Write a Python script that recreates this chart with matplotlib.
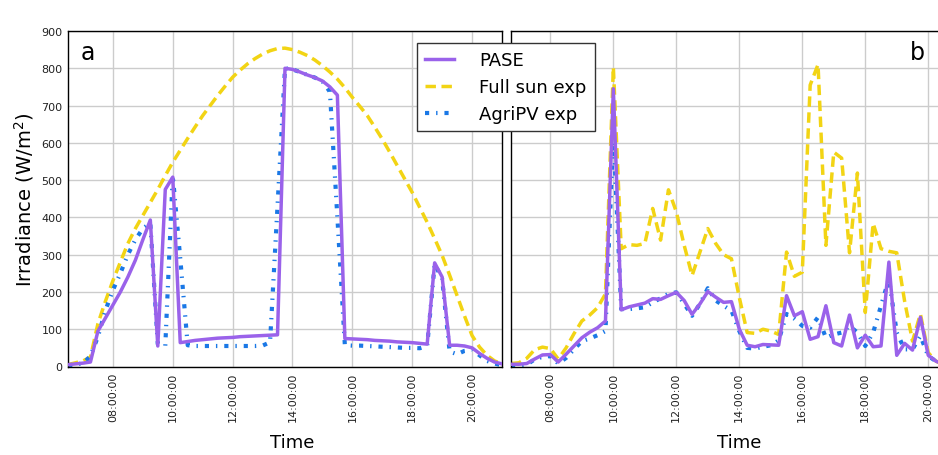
import numpy as np
import matplotlib
matplotlib.use("Agg")
import matplotlib.pyplot as plt
from matplotlib.ticker import FuncFormatter, MultipleLocator

plt.rcParams['lines.scale_dashes'] = False

# time of day in hours, 15 min steps
t_a = np.arange(6.5, 21.0 + 0.01, 0.25)
t_b = np.arange(6.75, 20.5 + 0.01, 0.25)

# panel a (clear day)
pase_a = [5, 7, 9, 12, 95, 130, 165, 200, 240, 285, 340, 393, 55, 475, 508,
          64, 67, 70, 72, 74, 76, 77, 78, 80, 81, 82, 83, 84, 85,
          800, 797, 790, 782, 775, 766, 750, 728,
          75, 74, 73, 72, 70, 69, 68, 66, 65, 64, 62, 60,
          278, 240, 57, 57, 55, 50, 35, 22, 12, 7]
fullsun_a = [5, 10, 15, 25, 115, 175, 230, 280, 330, 370, 405, 440, 475, 512, 548,
             580, 612, 643, 673, 700, 727, 752, 776, 795, 812, 826, 838, 847, 853,
             854, 850, 843, 834, 822, 807, 790, 771,
             748, 722, 698, 673, 642, 610, 575, 539, 503, 467, 427, 387,
             343, 298, 245, 190, 135, 83, 52, 30, 15, 7]
agripv_a = [3, 6, 8, 28, 80, 150, 205, 250, 300, 340, 370, 385, 60, 55, 513,
            290, 57, 55, 55, 55, 55, 55, 55, 55, 55, 55, 56, 65, 430,
            800, 797, 790, 782, 775, 765, 737, 400,
            57, 56, 56, 55, 54, 53, 52, 51, 50, 50, 49, 55,
            275, 235, 40, 33, 42, 45, 30, 15, 8, 3]

# panel b (cloudy day)
pase_b = [6, 6, 8, 20, 31, 32, 12, 33, 55, 77, 92, 104, 122, 745,
          152, 160, 165, 170, 182, 180, 190, 199, 177, 140, 168, 201, 186, 172,
          174, 100, 57, 53, 59, 58, 57, 190, 136, 147, 73, 80, 163, 64,
          55, 138, 50, 84, 53, 55, 280, 30, 62, 44, 132, 30, 14, 5]
fullsun_b = [8, 10, 22, 45, 52, 48, 20, 50, 88, 122, 138, 158, 195, 803,
             316, 327, 325, 330, 424, 339, 474, 415, 325, 244, 307, 370, 330, 300,
             289, 185, 91, 89, 100, 95, 86, 307, 242, 253, 755, 810, 325, 575,
             559, 305, 519, 145, 384, 316, 309, 305, 175, 68, 141, 37, 14, 5]
agripv_b = [3, 3, 5, 19, 26, 28, 8, 23, 46, 68, 75, 84, 95, 630,
            154, 154, 156, 159, 172, 183, 195, 199, 168, 136, 168, 210, 177, 163,
            150, 95, 50, 48, 53, 57, 70, 141, 128, 109, 104, 132, 77, 86,
            91, 109, 91, 55, 91, 163, 235, 91, 46, 46, 82, 28, 14, 5]

c_pase = '#9a62ea'
c_sun = '#f2d414'
c_agri = '#1a78e6'


def hhmmss(x, pos):
    h = int(x)
    m = int(round((x - h) * 60))
    return "%02d:%02d:00" % (h, m)


fig = plt.figure(figsize=(9.38, 4.56), dpi=100)
W, H = 938.0, 456.0
ax_a = fig.add_axes([68 / W, (H - 367.5) / H, 434 / W, 335.5 / H])
ax_b = fig.add_axes([511 / W, (H - 367.5) / H, 433 / W, 335.5 / H])

for ax, t, p, s, g, xl in [(ax_a, t_a, pase_a, fullsun_a, agripv_a, (6.5, 21.0)),
                           (ax_b, t_b, pase_b, fullsun_b, agripv_b, (6.75, 20.5))]:
    ax.plot(t, p, color=c_pase, lw=2.5, label='PASE', zorder=3)
    ax.plot(t, s, color=c_sun, lw=2.5, dashes=(7.5, 4), label='Full sun exp', zorder=2)
    ax.plot(t, g, color=c_agri, lw=3, dashes=(3, 5, 1, 5), label='AgriPV exp', zorder=2)
    ax.set_xlim(*xl)
    ax.set_ylim(0, 900)
    ax.xaxis.set_major_locator(MultipleLocator(2))
    ax.xaxis.set_major_formatter(FuncFormatter(hhmmss))
    ax.yaxis.set_major_locator(MultipleLocator(100))
    ax.grid(True, color='#cccccc', lw=1)
    ax.set_axisbelow(True)
    ax.tick_params(direction='in', length=0, labelsize=8, pad=4, labelcolor='#222222')
    ax.tick_params(axis='x', labelrotation=90)
    ax.set_xlabel('Time', fontsize=13)
    for sp in ax.spines.values():
        sp.set_linewidth(1)

ax_a.xaxis.set_label_coords(0.516, -0.197)
ax_b.xaxis.set_label_coords(0.528, -0.197)
ax_b.tick_params(axis='y', labelleft=False)
ax_a.set_ylabel('Irradiance (W/m$^2$)', fontsize=14, labelpad=4)

ax_a.text(0.028, 0.937, 'a', transform=ax_a.transAxes, fontsize=17, va='center', ha='left')
ax_b.text(0.956, 0.937, 'b', transform=ax_b.transAxes, fontsize=17, va='center', ha='right')

h, l = ax_a.get_legend_handles_labels()
leg = fig.legend(h, l, loc='upper left', bbox_to_anchor=(417 / W, (H - 44) / H),
                 borderaxespad=0, fontsize=13, fancybox=False, framealpha=1,
                 edgecolor='#333333', handlelength=1.6, handletextpad=1.4,
                 labelspacing=0.5, borderpad=0.45)
leg.get_frame().set_linewidth(1)

fig.savefig('out.png', dpi=100)
